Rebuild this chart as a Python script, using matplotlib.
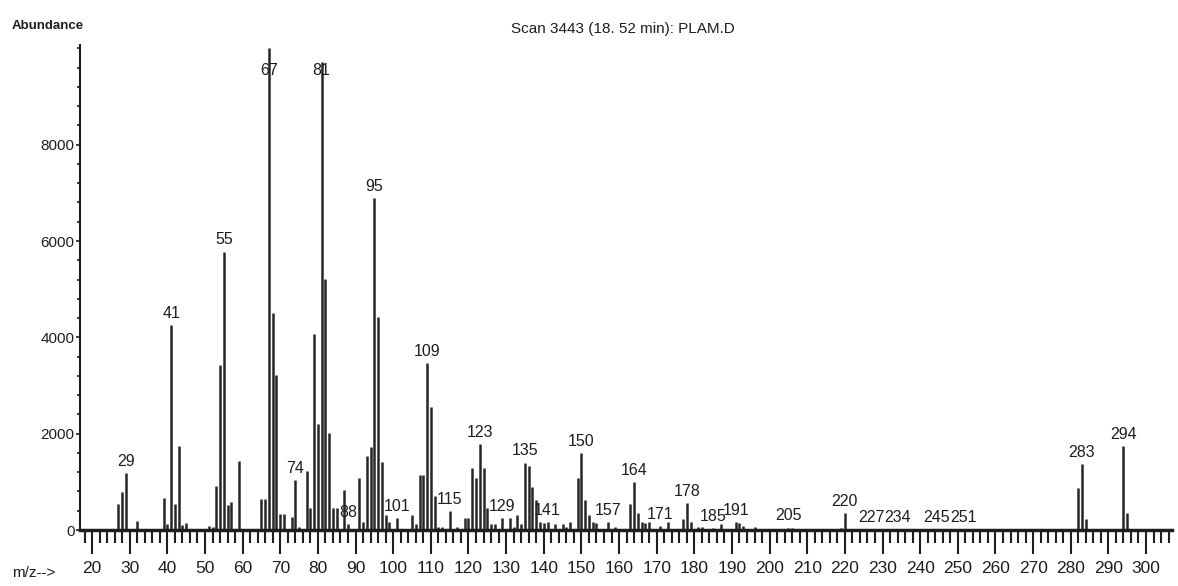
import matplotlib
matplotlib.use('Agg')
import matplotlib.pyplot as plt
from matplotlib.ticker import MultipleLocator

plt.rcParams['font.family'] = ['Liberation Sans', 'DejaVu Sans']

# ion m/z values and their abundances for scan 3443
mz = [27, 28, 29, 32, 39, 40, 41, 42, 43, 44, 45, 51, 52, 53, 54, 55, 56, 57, 59,
      65, 66, 67, 68, 69, 70, 71, 73, 74, 75, 77, 78, 79, 80, 81, 82, 83, 84, 85,
      87, 88, 91, 92, 93, 94, 95, 96, 97, 98, 99, 101, 105, 106, 107, 108, 109,
      110, 111, 112, 113, 115, 117, 119, 120, 121, 122, 123, 124, 125, 126, 127,
      129, 131, 132, 133, 134, 135, 136, 137, 138, 139, 140, 141, 143, 145, 146,
      147, 149, 150, 151, 152, 153, 154, 157, 159, 163, 164, 165, 166, 167, 168,
      171, 173, 177, 178, 179, 181, 182, 185, 187, 191, 192, 193, 196, 205, 206,
      219, 220, 227, 234, 245, 251, 282, 283, 284, 294, 295]
abundance = [540, 780, 1180, 190, 670, 130, 4250, 540, 1740, 100, 140, 80, 60, 910,
             3420, 5780, 520, 590, 1430,
             640, 640, 10000, 4500, 3220, 330, 330, 270, 1040, 60, 1230, 450, 4070,
             2200, 9720, 5210, 2010, 450, 450,
             830, 120, 1090, 170, 1540, 1730, 6890, 4420, 1410, 310, 170, 255, 310,
             120, 1140, 1140, 3470,
             2560, 705, 60, 60, 395, 60, 255, 255, 1290, 1080, 1790, 1290, 450, 120,
             120,
             255, 255, 60, 310, 120, 1400, 1330, 900, 620, 170, 150, 170, 120, 120, 60,
             170, 1080, 1600, 620, 310, 170, 140, 170, 60, 540, 1000, 350, 170, 140,
             170,
             80, 170, 230, 560, 170, 60, 60, 40, 120, 170, 150, 80, 60, 50, 50,
             50, 350, 20, 20, 20, 20, 870, 1370, 230, 1740, 350]

# peaks whose m/z is printed above the line
labelled = [29, 41, 55, 67, 74, 81, 88, 95, 101, 109, 115, 123, 129, 135, 141,
            150, 157, 164, 171, 178, 185, 191, 205, 220, 227, 234, 245, 251,
            283, 294]

ink = '#1e1e1e'
W, H = 1178, 586

fig = plt.figure(figsize=(W / 100, H / 100), dpi=100)
ax = fig.add_axes([80 / W, 56 / H, 1092 / W, 485 / H])

ax.vlines(mz, 0, abundance, colors='#262626', linewidth=1.8)

# print the m/z above each labelled peak, held under the top of the frame
for m in labelled:
    v = abundance[mz.index(m)]
    dx = {245: -1.5, 251: 1.5}.get(m, 0)
    ax.annotate(str(m), (m, min(v, 9300)), xytext=(dx, 3),
                textcoords='offset points', ha='center', va='bottom',
                fontsize=11.5, color=ink)

ax.set_xlim(16.8, 306.9)
ax.set_ylim(0, 10070)

ax.spines['top'].set_visible(False)
ax.spines['right'].set_visible(False)
ax.spines['left'].set_linewidth(1.5)
ax.spines['bottom'].set_linewidth(2.5)
ax.spines['left'].set_color(ink)
ax.spines['bottom'].set_color(ink)

ax.xaxis.set_major_locator(MultipleLocator(10))
ax.xaxis.set_minor_locator(MultipleLocator(2))
ax.yaxis.set_minor_locator(MultipleLocator(400))
ax.set_yticks([0, 2000, 4000, 6000, 8000])

ax.tick_params(axis='x', which='major', direction='out', length=17, width=1.5,
               pad=5, labelsize=12.5, color=ink, labelcolor=ink)
ax.tick_params(axis='x', which='minor', direction='out', length=9, width=1.5,
               color=ink)
ax.tick_params(axis='y', which='major', direction='out', length=3, width=1.2,
               pad=1, labelsize=11, color=ink, labelcolor=ink)
ax.tick_params(axis='y', which='minor', direction='out', length=2, width=1.2,
               color=ink)

fig.text(12 / W, 1 - 26 / H, 'Abundance', fontsize=9.5, fontweight='bold',
         va='center', ha='left', color=ink)
fig.text(623 / W, 1 - 29 / H, 'Scan 3443 (18. 52 min): PLAM.D', fontsize=11,
         va='center', ha='center', color=ink)
fig.text(12 / W, 1 - 573 / H, 'm/z-->', fontsize=11, va='center', ha='left',
         color=ink)

fig.savefig('out.png', dpi=100, facecolor='white')
